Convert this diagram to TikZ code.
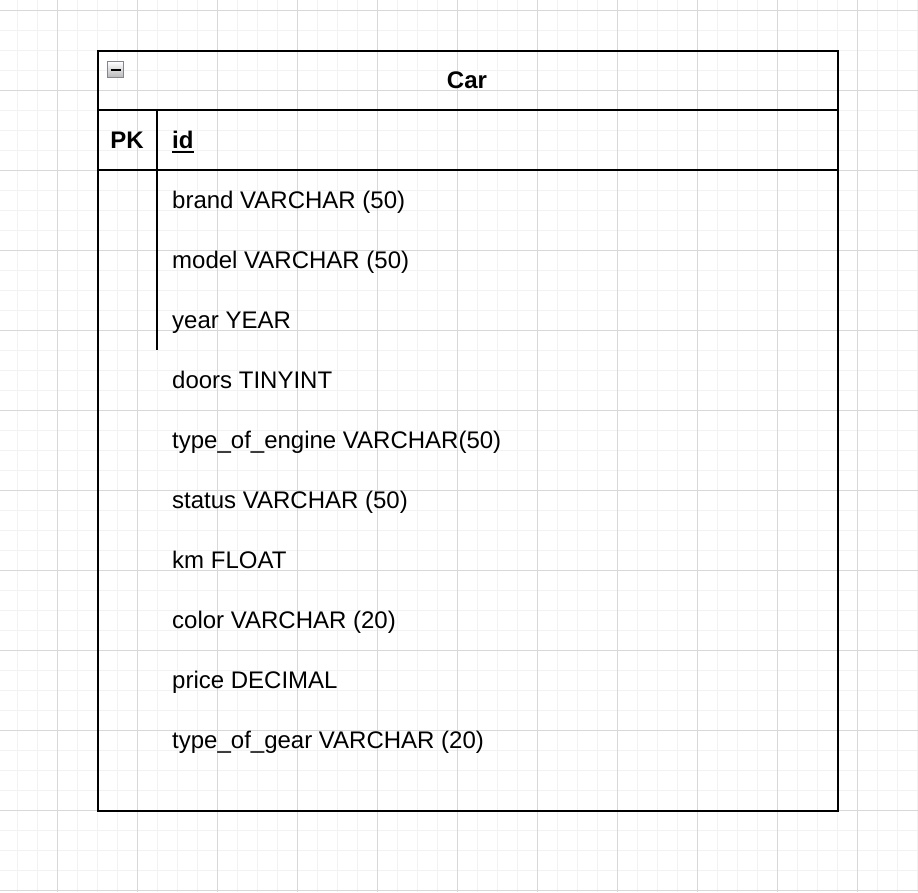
\documentclass[tikz,border=0pt]{standalone}
\usepackage{fontspec}
\setmainfont{Liberation Sans}
\definecolor{minorgrid}{HTML}{F2F2F2}
\definecolor{majorgrid}{HTML}{D8D8D8}
\definecolor{iconborder}{HTML}{85858F}
\begin{document}
\begin{tikzpicture}[x=1pt,y=-1pt,
  tableline/.style={line width=2pt,black},
  fieldtext/.style={anchor=base west,inner sep=0pt,font=\fontsize{24}{28}\selectfont},
  headtext/.style={anchor=base,inner sep=0pt,font=\fontsize{24}{28}\selectfont\bfseries}]
\useasboundingbox (0,0) rectangle (918,892);
\fill[white] (0,0) rectangle (918,892);
% grid
\foreach \x in {17,37,...,917} \draw[minorgrid,line width=1pt] (\x,0) -- (\x,892);
\foreach \y in {10,30,...,890} \draw[minorgrid,line width=1pt] (0,\y) -- (918,\y);
\foreach \x in {57,137,...,917} \draw[majorgrid,line width=1pt] (\x,0) -- (\x,892);
\foreach \y in {10,90,...,890} \draw[majorgrid,line width=1pt] (0,\y) -- (918,\y);
% table
\node[draw=black,line width=2pt,minimum width=740pt,minimum height=760pt,inner sep=0pt,anchor=north west] (table) at (97,50) {};
\draw[tableline] (97,110) coordinate (h1) -- (837,110) coordinate (h2);
\draw[tableline] (97,170) coordinate (p1) -- (837,170) coordinate (p2);
\draw[tableline] (157,110) coordinate (d1) -- (157,350) coordinate (d2);
% collapse icon
\node[draw=iconborder,line width=1.2pt,top color=white,bottom color=black!28,minimum width=16pt,minimum height=16pt,inner sep=0pt,anchor=north west] (icon) at (107,61) {};
\draw[black,line width=2pt] ([xshift=3.5pt]icon.west) -- ([xshift=-3.5pt]icon.east);
% header texts
\node[headtext] (title) at (467,88.5) {Car};
\node[headtext] (pk) at (127,148.5) {PK};
\node[fieldtext,font=\fontsize{24}{28}\selectfont\bfseries] (id) at (172,148.5) {id};
\draw[black,line width=1.6pt] ([yshift=-3.4pt]id.base west) -- ([yshift=-3.4pt]id.base east);
% fields
\node[fieldtext] (f1) at (172,208.5) {brand VARCHAR (50)};
\node[fieldtext] (f2) at (172,268.5) {model VARCHAR (50)};
\node[fieldtext] (f3) at (172,328.5) {year YEAR};
\node[fieldtext] (f4) at (172,388.5) {doors TINYINT};
\node[fieldtext] (f5) at (172,448.5) {type\_of\_engine VARCHAR(50)};
\node[fieldtext] (f6) at (172,508.5) {status VARCHAR (50)};
\node[fieldtext] (f7) at (172,568.5) {km FLOAT};
\node[fieldtext] (f8) at (172,628.5) {color VARCHAR (20)};
\node[fieldtext] (f9) at (172,688.5) {price DECIMAL};
\node[fieldtext] (f10) at (172,748.5) {type\_of\_gear VARCHAR (20)};
\end{tikzpicture}
\end{document}
